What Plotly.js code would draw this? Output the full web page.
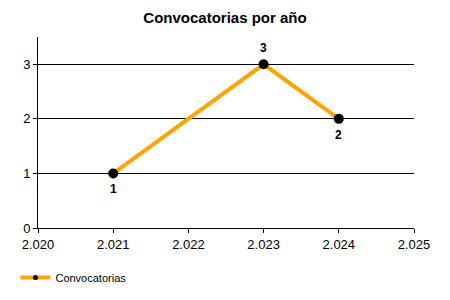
<!DOCTYPE html>
<html>
<head>
<meta charset="utf-8">
<script src="https://cdn.plot.ly/plotly-3.0.1.min.js"></script>
<style>html,body{margin:0;padding:0;background:#fff;}#chart{width:450px;height:300px;}</style>
</head>
<body>
<div id="chart"></div>
<script>
var years = [2021, 2023, 2024];
var counts = [1, 3, 2];
var labelSides = ['below', 'above', 'below'];
var seriesName = 'Convocatorias';
var chartTitle = 'Convocatorias por año';

var trace = {
  x: years,
  y: counts,
  type: 'scatter',
  mode: 'lines+markers',
  name: seriesName,
  showlegend: false,
  line: {color: '#FFA500', width: 4},
  marker: {color: '#000', size: 10},
  cliponaxis: false
};

var legendTrace = {
  x: [null], y: [null],
  type: 'scatter', mode: 'lines+markers',
  name: seriesName, showlegend: true,
  line: {color: '#FFA500', width: 4},
  marker: {color: '#000', size: 5}
};

var annotations = years.map(function (yr, i) {
  return {
    x: yr, y: counts[i], xref: 'x', yref: 'y',
    text: String(counts[i]), showarrow: false,
    yshift: labelSides[i] === 'above' ? 16 : -16,
    font: {size: 12, weight: 'bold', color: '#000'}
  };
});

var layout = {
  width: 450, height: 300,
  margin: {l: 38, r: 36, t: 37, b: 72, autoexpand: false},
  paper_bgcolor: '#fff', plot_bgcolor: '#fff',
  separators: ',.',
  font: {family: 'Liberation Sans, Arial, sans-serif', size: 12, color: '#000'},
  title: {text: chartTitle, font: {size: 15, weight: 'bold', color: '#000'}, x: 0.5, xanchor: 'center', y: 0.94, yanchor: 'middle'},
  annotations: annotations,
  xaxis: {
    range: [2020, 2025], dtick: 1, tick0: 2020, tickformat: ',d',
    showgrid: false, zeroline: false, showline: true, linecolor: '#000', linewidth: 1,
    ticks: 'outside', ticklen: 4, tickcolor: '#000',
    tickfont: {size: 13}, fixedrange: true
  },
  yaxis: {
    range: [0, 3.5], dtick: 1, tick0: 0,
    showgrid: true, gridcolor: '#000', gridwidth: 1, zeroline: false,
    showline: true, linecolor: '#000', linewidth: 1,
    ticks: 'outside', ticklen: 4, tickcolor: '#000',
    tickfont: {size: 13}, fixedrange: true
  },
  showlegend: true,
  legend: {
    orientation: 'h', x: -0.06, xanchor: 'left', y: -0.183, yanchor: 'top',
    font: {size: 11}, itemwidth: 30, bgcolor: 'rgba(0,0,0,0)'
  }
};

Plotly.newPlot('chart', [trace, legendTrace], layout, {displayModeBar: false, staticPlot: true});
</script>
</body>
</html>
